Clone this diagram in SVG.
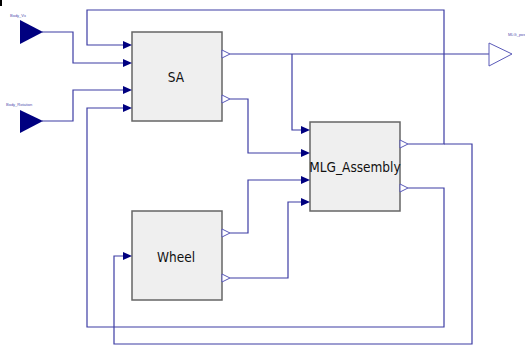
<svg xmlns="http://www.w3.org/2000/svg" width="525" height="345" viewBox="0 0 525 345">
<defs>
<style>
.blk{fill:#efefef;stroke:#666;stroke-width:1.5}
.lbl{font-family:"DejaVu Sans Condensed","DejaVu Sans",sans-serif;font-stretch:condensed;font-size:13.5px;fill:#111;text-anchor:middle;dominant-baseline:central}
.tiny{font-family:"Liberation Sans",Arial,sans-serif;font-size:4px;fill:#5050b0}
.wire{fill:none;stroke:#3c3ca4;stroke-width:1.2}
.in{fill:#000080}
.out{fill:#fff;stroke:#5a5ab8;stroke-width:1}
</style>
</defs>
<rect width="525" height="345" fill="#fff"/>
<rect x="0" y="0" width="2" height="6" fill="#000"/>
<g id="connectors">
<polyline class="wire" points="42,32 73,32 73,63 124,63"/>
<polyline class="wire" points="42,121 73,121 73,90 124,90"/>
<polyline class="wire" points="230,54 489,54"/>
<polyline class="wire" points="292,54 292,130 302,130"/>
<polyline class="wire" points="230,99 248,99 248,153 302,153"/>
<polyline class="wire" points="230,233 248,233 248,180 302,180"/>
<polyline class="wire" points="230,278 288,278 288,202 302,202"/>
<polyline class="wire" points="408,144 444,144 444,10 87,10 87,45 124,45"/>
<polyline class="wire" points="408,188 444,188 444,327 87,327 87,108 124,108"/>
<polyline class="wire" points="444,144 472,144 472,344 114,344 114,256 124,256"/>
</g>
<g id="Body_Vx">
<polygon class="in" points="20,20 43,32 20,44"/>
<text class="tiny" x="10" y="17">Body_Vx</text>
</g>
<g id="Body_Rotation">
<polygon class="in" points="20,110 43,121 20,133"/>
<text class="tiny" x="6" y="106">Body_Rotation</text>
</g>
<g id="MLG_pos">
<polygon class="out" points="489,43 512,54 489,66"/>
<text class="tiny" x="508" y="36">MLG_pos</text>
</g>
<g id="SA">
<rect class="blk" x="132" y="32" width="90" height="89"/>
<text class="lbl" x="176" y="77">SA</text>
<polygon class="in" points="123,41 132,45 123,49"/>
<polygon class="in" points="123,59 132,63 123,67"/>
<polygon class="in" points="123,86 132,90 123,94"/>
<polygon class="in" points="123,104 132,108 123,112"/>
<polygon class="out" points="222,50 230,54 222,58"/>
<polygon class="out" points="222,95 230,99 222,103"/>
</g>
<g id="MLG_Assembly">
<rect class="blk" x="310" y="122" width="90" height="89"/>
<text class="lbl" x="355" y="167">MLG_Assembly</text>
<polygon class="in" points="301,126 310,130 301,134"/>
<polygon class="in" points="301,149 310,153 301,157"/>
<polygon class="in" points="301,176 310,180 301,184"/>
<polygon class="in" points="301,198 310,202 301,206"/>
<polygon class="out" points="400,140 408,144 400,148"/>
<polygon class="out" points="400,184 408,188 400,192"/>
</g>
<g id="Wheel">
<rect class="blk" x="132" y="211" width="90" height="89"/>
<text class="lbl" x="176" y="257">Wheel</text>
<polygon class="in" points="123,252 132,256 123,260"/>
<polygon class="out" points="222,229 230,233 222,237"/>
<polygon class="out" points="222,274 230,278 222,282"/>
</g>
</svg>
